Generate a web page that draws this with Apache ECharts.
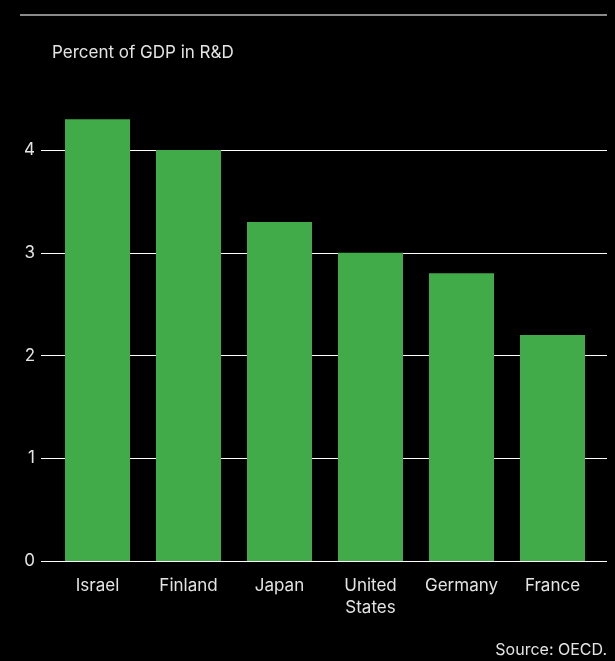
<!DOCTYPE html>
<html>
<head>
<meta charset="utf-8">
<script src="https://cdn.jsdelivr.net/npm/echarts@6/dist/echarts.min.js"></script>
<style>
  html, body { margin: 0; padding: 0; background: #000; }
  #chart { width: 615px; height: 661px; }
</style>
</head>
<body>
<div id="chart"></div>
<script>
const countries = ['Israel', 'Finland', 'Japan', 'United\nStates', 'Germany', 'France'];
const rdShare = [4.3, 4.0, 3.3, 3.0, 2.8, 2.2];
const yTicks = [0, 1, 2, 3, 4];

const font = 'Inter, "Noto Sans", sans-serif';
const textColor = '#e4e4e4';

const chart = echarts.init(document.getElementById('chart'));
chart.setOption({
  backgroundColor: '#000',
  animation: false,
  title: {
    text: 'Percent of GDP in R&D',
    left: 47,
    top: 39,
    textStyle: { color: textColor, fontSize: 17, fontWeight: 'normal', fontFamily: font }
  },
  graphic: [
    { type: 'line', shape: { x1: 20, y1: 15, x2: 607, y2: 15 }, style: { stroke: '#8a8a8a', lineWidth: 2 } },
    { type: 'text', right: 8, top: 642, style: { text: 'Source: OECD.', fill: textColor, font: '16px ' + font } }
  ],
  grid: [
    { left: 41, right: 8, top: 150, bottom: 100 },
    { left: 52, right: 17, top: 150, bottom: 100 }
  ],
  xAxis: [
    { type: 'value', gridIndex: 0, show: false },
    {
      type: 'category', gridIndex: 1, data: countries,
      axisLine: { show: false }, axisTick: { show: false },
      axisLabel: { color: textColor, fontSize: 17, fontFamily: font, margin: 14, lineHeight: 22, verticalAlign: 'top', interval: 0, hideOverlap: false }
    }
  ],
  yAxis: [
    {
      type: 'value', gridIndex: 0, min: yTicks[0], max: yTicks[yTicks.length - 1], interval: 1,
      axisLine: { show: false }, axisTick: { show: false },
      axisLabel: { color: textColor, fontSize: 17, fontFamily: font, margin: 6 },
      splitLine: { lineStyle: { color: '#ffffff', width: 1 } }
    },
    { type: 'value', gridIndex: 1, min: 0, max: 4, show: false, splitLine: { show: false } }
  ],
  series: [
    {
      type: 'bar', xAxisIndex: 1, yAxisIndex: 1, data: rdShare,
      barWidth: 65, clip: false,
      itemStyle: { color: '#41ab4a' }
    }
  ]
});
</script>
</body>
</html>
